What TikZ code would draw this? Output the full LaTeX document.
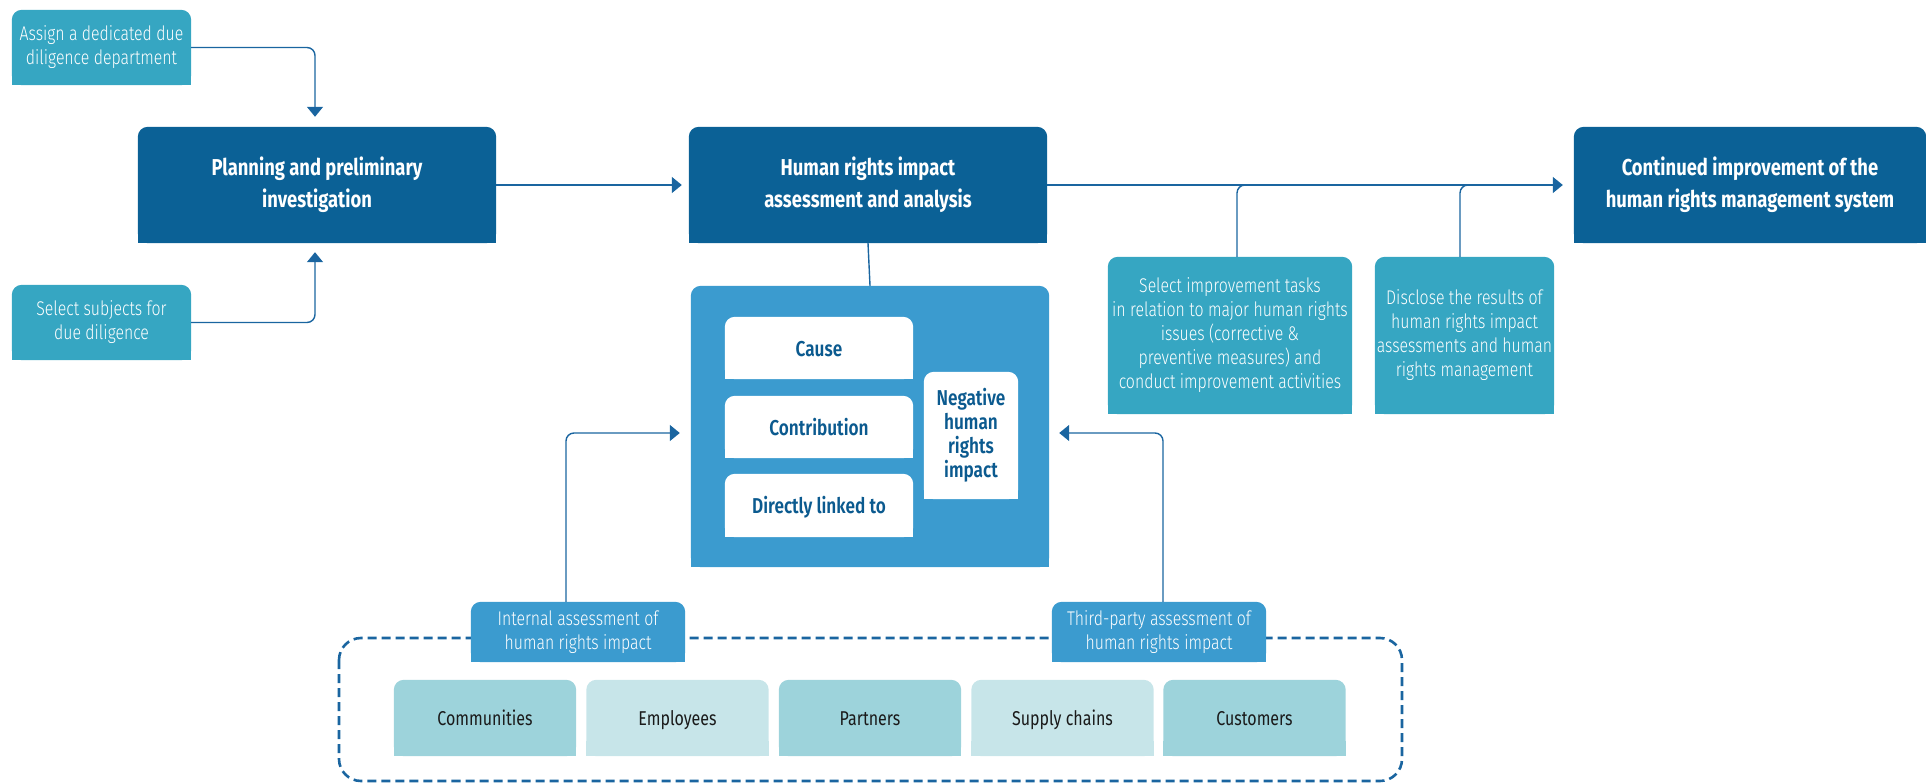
\documentclass[tikz,border=0pt]{standalone}
\usepackage{fontspec}
\setmainfont{Fira Sans}[FakeStretch=0.8]
\newfontfamily\lightfont{Fira Sans Light}[FakeStretch=0.8]
\newfontfamily\medfont{Fira Sans SemiBold}[FakeStretch=0.8]
\usetikzlibrary{arrows.meta,backgrounds,calc}
\definecolor{dark}{HTML}{0B6196}
\definecolor{tealc}{HTML}{36A6C2}
\definecolor{midc}{HTML}{3B9BCF}
\definecolor{lt1}{HTML}{9DD3DB}
\definecolor{lt2}{HTML}{C7E5E9}
\definecolor{linec}{HTML}{1A65A0}
\definecolor{dtext}{HTML}{0B5A8F}
\definecolor{btext}{HTML}{1A1A1A}
\tikzset{
  nbox/.style={inner sep=0pt, align=center},
  titletext/.style={nbox, text=white, font=\fontsize{23}{32}\selectfont\bfseries},
  lighttext/.style={nbox, text=white, font=\lightfont\fontsize{19.8}{24}\selectfont},
  inner/.style={nbox, text=dtext, font=\medfont\fontsize{21.5}{24}\selectfont},
  oneline/.style={text height=20pt, text depth=4pt},
  rowline/.style={text height=18pt, text depth=4pt},
  rowtext/.style={nbox, rowline, text=btext, font=\fontsize{20}{24}\selectfont, minimum width=182, minimum height=76},
  conn/.style={draw=linec, line width=1.4pt, rounded corners=8pt, -{Triangle[length=10pt,width=16pt]}},
  plainconn/.style={draw=linec, line width=1.4pt, rounded corners=8pt},
}
\begin{document}
\begin{tikzpicture}[x=1pt,y=-1pt]
\useasboundingbox (0,0) rectangle (1926,783);
% nodes
\node[lighttext, minimum width=179, minimum height=75] (assign) at (101.5,47.5) {Assign a dedicated due\\diligence department};
\node[lighttext, minimum width=179, minimum height=75] (select) at (101.5,322.5) {Select subjects for\\due diligence};
\node[titletext, minimum width=358, minimum height=116] (plan) at (317,185) {Planning and preliminary\\investigation};
\node[titletext, minimum width=358, minimum height=116] (hr) at (868,185) {Human rights impact\\assessment and analysis};
\node[titletext, minimum width=352, minimum height=116] (cont) at (1750,185) {Continued improvement of the\\human rights management system};
\node[nbox, minimum width=358, minimum height=281] (big) at (870,426.5) {};
\node[inner, oneline, minimum width=188, minimum height=62] (cause) at (819,348) {Cause};
\node[inner, oneline, minimum width=188, minimum height=62] (contrib) at (819,427) {Contribution};
\node[inner, oneline, minimum width=188, minimum height=63] (linked) at (819,505.5) {Directly linked to};
\node[inner, minimum width=94, minimum height=127] (neg) at (971,435.5) {Negative\\human\\rights\\impact};
\node[lighttext, minimum width=244, minimum height=157] (selimp) at (1230,335.5) {Select improvement tasks\\in relation to major human rights\\issues (corrective \&\\preventive measures) and\\conduct improvement activities};
\node[lighttext, minimum width=179, minimum height=157] (disclose) at (1464.5,335.5) {Disclose the results of\\human rights impact\\assessments and human\\rights management};
\node[lighttext, minimum width=214, minimum height=60] (internal) at (578,632) {Internal assessment of\\human rights impact};
\node[lighttext, minimum width=214, minimum height=60] (third) at (1159,632) {Third-party assessment of\\human rights impact};
\node[rowtext] (comm) at (485,718) {Communities};
\node[rowtext] (empl) at (677.5,718) {Employees};
\node[rowtext] (part) at (870,718) {Partners};
\node[rowtext] (supp) at (1062.5,718) {Supply chains};
\node[rowtext] (cust) at (1254.5,718) {Customers};
\coordinate (j1) at (1291,185);
\coordinate (j2) at (1512,185);
% backgrounds
\begin{scope}[on background layer]
\draw[linec, line width=2.6pt, dash pattern=on 9pt off 5pt, rounded corners=22pt] (339,638) rectangle (1402,781);
\foreach \n/\c in {assign/tealc, select/tealc, plan/dark, hr/dark, cont/dark, big/midc, cause/white, contrib/white, linked/white, neg/white, selimp/tealc, disclose/tealc, internal/midc, third/midc, comm/lt1, empl/lt2, part/lt1, supp/lt2, cust/lt1}{
  \fill[\c, rounded corners=10pt] (\n.south west) rectangle (\n.north east);
  \fill[\c] (\n.south west) rectangle ([yshift=15pt]\n.south east);
}
\end{scope}
% connectors
\draw[conn] (assign.east) -| ([xshift=-2pt,yshift=10pt]plan.north);
\draw[conn] (select.east) -| ([xshift=-2pt,yshift=-9pt]plan.south);
\draw[conn, shorten >=7pt] (plan.east) -- (hr.west);
\draw[conn, shorten >=11pt] (hr.east) -- (cont.west);
\draw[plainconn] (hr.south) -- (big.north);
\draw[conn] ([xshift=-12pt]internal.north) |- ([xshift=-11pt,yshift=-6.5pt]big.west);
\draw[conn] ([xshift=4pt]third.north) |- ([xshift=10pt,yshift=-6.5pt]big.east);
\draw[plainconn] ([xshift=7pt]selimp.north) |- (j1);
\draw[plainconn] ([xshift=-4.5pt]disclose.north) |- (j2);
\end{tikzpicture}
\end{document}
